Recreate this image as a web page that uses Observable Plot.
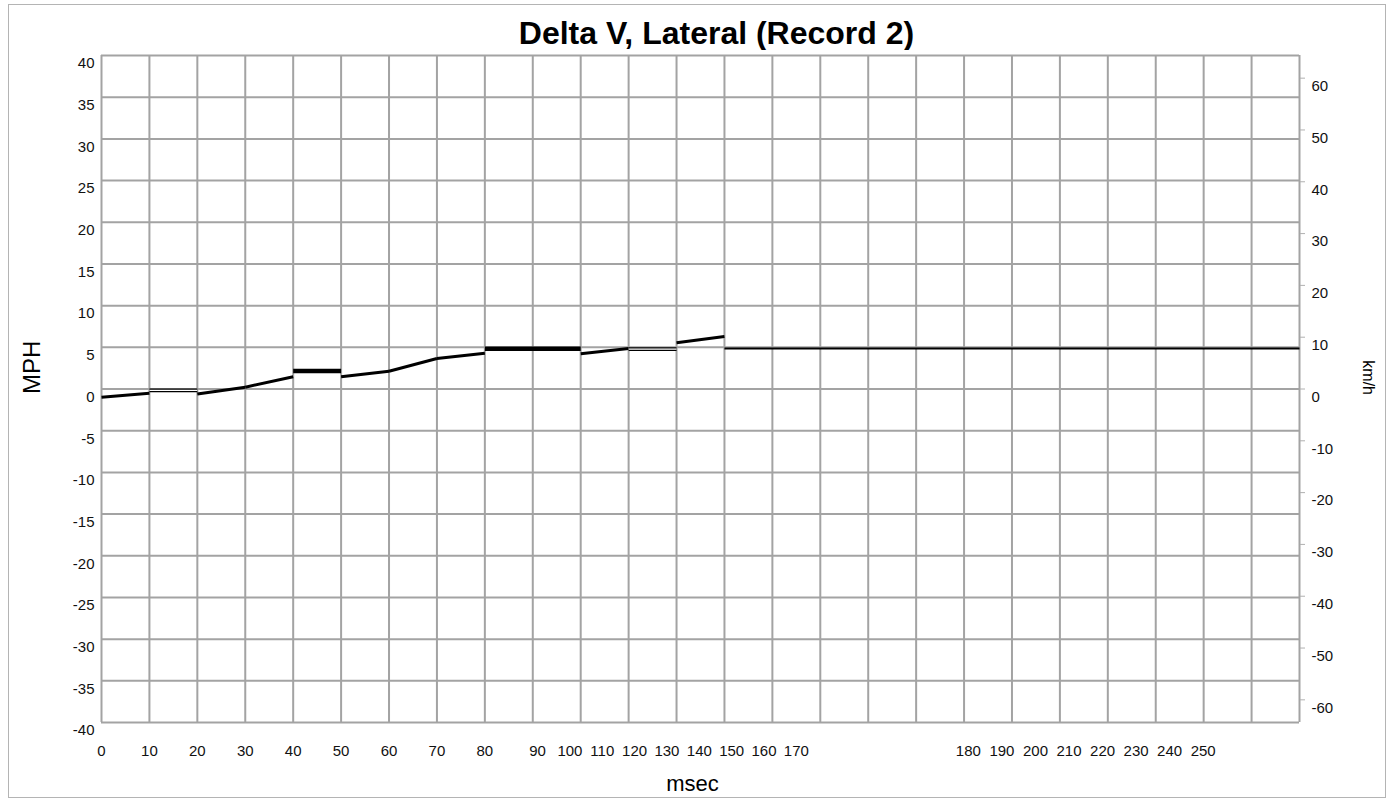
<!DOCTYPE html>
<html>
<head>
<meta charset="utf-8">
<script src="https://cdn.jsdelivr.net/npm/d3@7"></script>
<script src="https://cdn.jsdelivr.net/npm/@observablehq/plot@0.6"></script>
<style>
  html, body { margin: 0; padding: 0; background: #fff; }
  body { width: 1393px; height: 800px; position: relative; overflow: hidden;
         font-family: "Liberation Sans", Arial, sans-serif; }
  #frame { position: absolute; left: 8px; top: 4px; width: 1376px; height: 792px;
           border: 1px solid #b4b4b4; pointer-events: none; }
  #title { position: absolute; left: 40px; top: 0; width: 1353px; height: 50px;
           text-align: center; font-weight: bold; font-size: 32px; line-height: 32px;
           padding-top: 17px; box-sizing: border-box; color: #000; white-space: nowrap; }
  #chart { position: absolute; left: 0; top: 50px; }
</style>
</head>
<body>
<div id="title">Delta V, Lateral (Record 2)</div>
<div id="chart"></div>
<div id="frame"></div>
<script>
// ---- data ----
const segStartMs  = [0, 10, 20, 30, 40, 50, 60, 70, 80, 100, 110, 120, 130];
const segEndMs    = [10, 20, 30, 40, 50, 60, 70, 80, 100, 110, 120, 130, 250];
const segStartMph = [-1.0, -0.16, -0.6, 0.22, 2.17, 1.48, 2.13, 3.65, 4.84, 4.22, 4.78, 5.55, 4.87];
const segEndMph   = [-0.52, -0.16, 0.22, 1.48, 2.17, 2.13, 3.65, 4.3, 4.84, 4.87, 4.78, 6.3, 4.87];
const segStyle    = ["slope", "double", "slope", "slope", "flat", "slope", "slope", "slope", "flat", "slope", "double", "slope", "hold"];

const xTickLabels = ["0","10","20","30","40","50","60","70","80","90","100","110","120","130","140","150","160","170","180","190","200","210","220","230","240","250"];
const mphTicks = [40, 35, 30, 25, 20, 15, 10, 5, 0, -5, -10, -15, -20, -25, -30, -35, -40];
const kmhTicks = [60, 50, 40, 30, 20, 10, 0, -10, -20, -30, -40, -50, -60];

// ---- build tables ----
const segs = segStartMs.map((s, i) => ({
  x1: s, x2: segEndMs[i], y1: segStartMph[i], y2: segEndMph[i], style: segStyle[i]
}));
// label positions along the msec axis, as laid out in the source report
const xLabelPos = xTickLabels.map((t, i) =>
  i < 9 ? i * 10 : (i < 18 ? 91 + (i - 9) * 6.75 : 180.9 + (i - 18) * 7.0));
const xLabels = xTickLabels.map((t, i) => ({ t, pos: xLabelPos[i] }));
const KMH = 1.609344;
const kmhAsMph = kmhTicks.map(k => k / KMH);
const grid = "#a3a3a3";

const chart = Plot.plot({
  width: 1393,
  height: 750,
  marginTop: 5,
  marginBottom: 78,
  marginLeft: 101,
  marginRight: 94,
  style: { fontFamily: "'Liberation Sans', Arial, sans-serif", fontSize: "15px", background: "#fff", color: "#111" },
  x: { domain: [0, 250], axis: null },
  y: { domain: [-40, 40], axis: null },
  marks: [
    Plot.ruleX(d3.range(0, 251, 10), { stroke: grid, strokeWidth: 2 }),
    Plot.ruleY(d3.range(-40, 41, 5), { stroke: grid, strokeWidth: 2 }),
    // left MPH axis
    Plot.axisY(mphTicks, { anchor: "left", tickSize: 0, tickPadding: 7, dy: 8,
      tickFormat: d => String(d), fontSize: 15 }),
    // right km/h axis: ticks at true positions, labels offset like the source
    Plot.axisY(kmhAsMph, { anchor: "right", tickSize: 5, tickFormat: () => "", stroke: "#b0b0b0" }),
    Plot.axisY(kmhAsMph, { anchor: "right", tickSize: 0, tickPadding: 12, dy: 8,
      tickFormat: d => String(Math.round(d * KMH)), fontSize: 15 }),
    // x tick labels
    Plot.text(xLabels, { x: "pos", text: "t", frameAnchor: "bottom", dy: 33, fontSize: 15, fill: "#111" }),
    // axis titles
    Plot.text(["MPH"], { frameAnchor: "left", dx: -69, dy: 5, rotate: -90, fontSize: 24, fill: "#000" }),
    Plot.text(["km/h"], { frameAnchor: "right", dx: 69, dy: 6, rotate: 90, fontSize: 16, fill: "#000" }),
    Plot.text(["msec"], { frameAnchor: "bottom", dx: -8, dy: 68, fontSize: 22, fill: "#000" }),
    // data
    Plot.link(segs.filter(d => d.style === "slope"), { x1: "x1", y1: "y1", x2: "x2", y2: "y2",
      stroke: "#000", strokeWidth: 3, strokeLinecap: "butt" }),
    Plot.link(segs.filter(d => d.style === "flat"), { x1: "x1", y1: "y1", x2: "x2", y2: "y2",
      stroke: "#000", strokeWidth: 4.5, strokeLinecap: "butt" }),
    Plot.link(segs.filter(d => d.style === "double"), { x1: "x1", y1: "y1", x2: "x2", y2: "y2",
      stroke: "#000", strokeWidth: 3.6, strokeLinecap: "butt" }),
    Plot.link(segs.filter(d => d.style === "double"), { x1: "x1", y1: "y1", x2: "x2", y2: "y2",
      stroke: "#fff", strokeWidth: 1.3, strokeLinecap: "butt" }),
    Plot.link(segs.filter(d => d.style === "hold"), { x1: "x1", y1: "y1", x2: "x2", y2: "y2",
      stroke: "#000", strokeWidth: 2, strokeLinecap: "butt" })
  ]
});
document.getElementById("chart").appendChild(chart);
</script>
</body>
</html>
